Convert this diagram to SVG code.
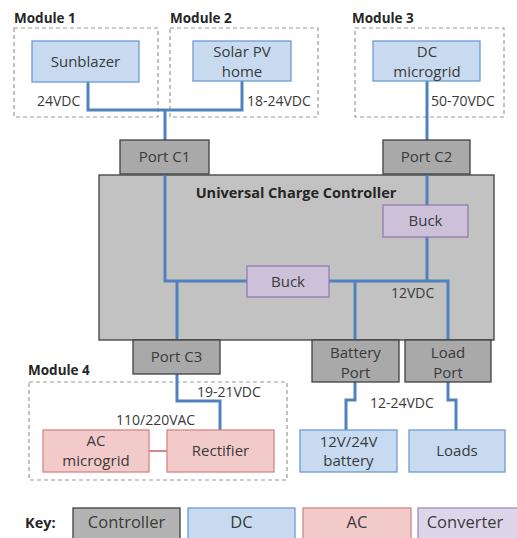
<svg xmlns="http://www.w3.org/2000/svg" width="517" height="538" viewBox="0 0 517 538">
<style>
text{font-family:"Open Sans","Noto Sans","Liberation Sans",sans-serif;fill:#3a3a3a;font-size:15px}
.b{font-weight:bold;font-size:13.5px;fill:#262626}
.t{font-size:14.5px}
.m{text-anchor:middle}
.v{font-size:14px}
.k{font-size:16.5px}
.mod{fill:none;stroke:#9a9a9a;stroke-width:1.2;stroke-dasharray:4 3}
.ctl{fill:#c2c2c2;stroke:#3f3f3f;stroke-width:1.3}
.port{fill:#a9a9a9;stroke:#3f3f3f;stroke-width:1.3}
.dc{fill:#c7daf0;stroke:#6d9bd0;stroke-width:1.3}
.ac{fill:#f2caca;stroke:#d58585;stroke-width:1.3}
.cv{fill:#cdc1da;stroke:#8f7eae;stroke-width:1.3}
.cvk{fill:#ddd6ea;stroke:#9d8fbb;stroke-width:1.3}
.w{fill:none;stroke:#4f81bd;stroke-width:3}
</style>
<rect width="517" height="538" fill="#ffffff"/>
<g id="module1"><text class="b" x="14" y="23">Module 1</text><rect class="mod" x="14" y="28" width="144" height="89"/></g>
<g id="module2"><text class="b" x="170" y="23">Module 2</text><rect class="mod" x="170" y="28" width="148" height="89"/></g>
<g id="module3"><text class="b" x="352" y="23">Module 3</text><rect class="mod" x="355" y="28" width="149" height="89"/></g>
<g id="module4"><text class="b" x="28" y="375">Module 4</text><rect class="mod" x="29" y="382" width="258" height="98"/></g>
<g id="controller"><rect class="ctl" x="99" y="175" width="395" height="165"/><text class="b t m" x="296" y="198">Universal Charge Controller</text></g>
<g id="connectors">
<path class="w" d="M88 82V110H242V81"/>
<path class="w" d="M165 110V281H250"/>
<path class="w" d="M177 281V401H220V430"/>
<path class="w" d="M427 81V282"/>
<path class="w" d="M328 281H448V400H456V430"/>
<path class="w" d="M355 281V400H346V430"/>
<path d="M149 451H167" fill="none" stroke="#d58585" stroke-width="2"/>
</g>
<g id="sunblazer"><rect class="dc" x="32" y="41" width="107" height="41"/><text class="m" x="85.5" y="67">Sunblazer</text></g>
<g id="solarpv"><rect class="dc" x="193" y="41" width="98" height="40"/><text class="m" x="242" y="57">Solar PV</text><text class="m" x="242" y="77">home</text></g>
<g id="dcmicrogrid"><rect class="dc" x="373" y="41" width="107" height="40"/><text class="m" x="427" y="57">DC</text><text class="m" x="427" y="77">microgrid</text></g>
<text class="v" x="37" y="106">24VDC</text>
<text class="v" x="247" y="106">18-24VDC</text>
<text class="v" x="431" y="106">50-70VDC</text>
<g id="portc1"><rect class="port" x="120" y="140" width="89" height="34"/><text class="m" x="164.5" y="162">Port C1</text></g>
<g id="portc2"><rect class="port" x="383" y="140" width="87" height="34"/><text class="m" x="426.5" y="162">Port C2</text></g>
<g id="buck1"><rect class="cv" x="383" y="205" width="85" height="32"/><text class="m" x="425.5" y="226">Buck</text></g>
<g id="buck2"><rect class="cv" x="247" y="266" width="82" height="31"/><text class="m" x="288" y="287">Buck</text></g>
<text class="v" x="391" y="298">12VDC</text>
<g id="portc3"><rect class="port" x="133" y="340" width="87" height="34"/><text class="m" x="176.5" y="362">Port C3</text></g>
<g id="batteryport"><rect class="port" x="312" y="340" width="87" height="42"/><text class="m" x="355.5" y="358">Battery</text><text class="m" x="355.5" y="378">Port</text></g>
<g id="loadport"><rect class="port" x="405" y="340" width="86" height="42"/><text class="m" x="448" y="358">Load</text><text class="m" x="448" y="378">Port</text></g>
<text class="v" x="197" y="397">19-21VDC</text>
<text class="v" x="116" y="425">110/220VAC</text>
<text class="v" x="370" y="408">12-24VDC</text>
<g id="acmicrogrid"><rect class="ac" x="43" y="430" width="106" height="42"/><text class="m" x="96" y="446">AC</text><text class="m" x="96" y="466">microgrid</text></g>
<g id="rectifier"><rect class="ac" x="167" y="430" width="107" height="42"/><text class="m" x="220.5" y="456">Rectifier</text></g>
<g id="battery"><rect class="dc" x="300" y="430" width="97" height="42"/><text class="m" x="348.5" y="447">12V/24V</text><text class="m" x="348.5" y="466">battery</text></g>
<g id="loads"><rect class="dc" x="409" y="430" width="96" height="42"/><text class="m" x="457" y="456">Loads</text></g>
<g id="key">
<text class="b" x="25" y="528" style="font-size:14.5px">Key:</text>
<rect class="ctl" x="73" y="508" width="107" height="34" style="fill:#b3b3b3"/><text class="m k" x="126.5" y="528">Controller</text>
<rect class="dc" x="188" y="508" width="107" height="34"/><text class="m k" x="241.5" y="528">DC</text>
<rect class="ac" x="303" y="508" width="108" height="34"/><text class="m k" x="357" y="528">AC</text>
<rect class="cvk" x="418" y="508" width="104" height="34"/><text class="m k" x="465" y="528">Converter</text>
</g>
</svg>
